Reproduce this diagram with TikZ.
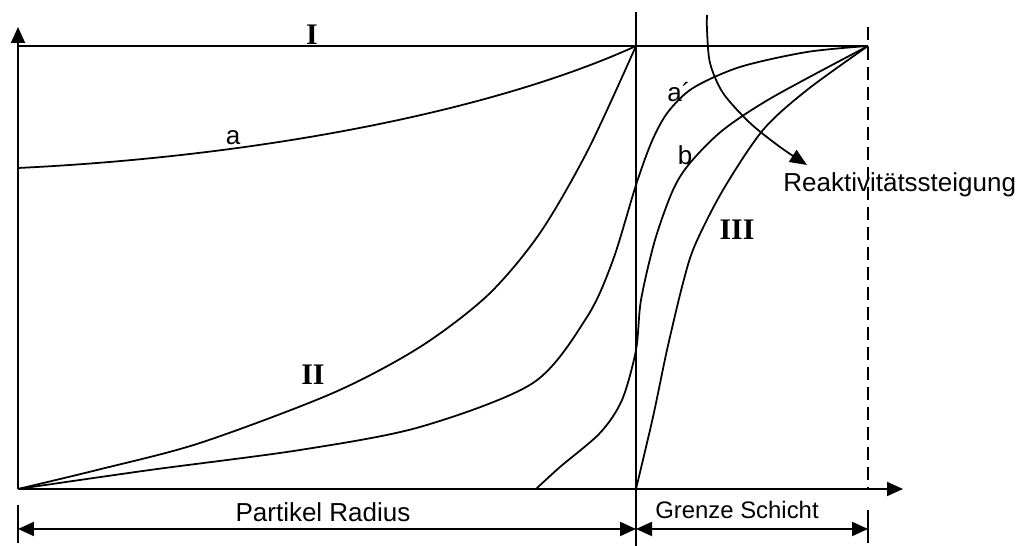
\documentclass[tikz,border=0pt]{standalone}
\usepackage{fontspec}
\setmainfont{Liberation Sans}
\newfontfamily\romfont{Liberation Serif}
\usetikzlibrary{arrows.meta,positioning}

\begin{document}
\begin{tikzpicture}[x=0.02cm,y=0.02cm,
  axisline/.style={line width=1.1pt,-{Triangle[length=0.32cm,width=0.28cm]}},
  dimline/.style={line width=1.1pt,{Triangle[length=0.32cm,width=0.28cm]}-{Triangle[length=0.32cm,width=0.28cm]}},
  curveline/.style={line width=1pt},
  lbl/.style={font=\fontsize{14.8}{16}\selectfont,inner sep=0pt},
  roman/.style={font=\fontsize{17}{19}\romfont\bfseries\selectfont,inner sep=0pt}]
\useasboundingbox (-18,-57) rectangle (1004,489);
% key points
\coordinate (O) at (0,0);
\coordinate (ytip) at (0,462);
\coordinate (xtip) at (885,0);
\coordinate (P1) at (618,443);
\coordinate (P2) at (850,443);
\coordinate (vtop) at (618,477);
\coordinate (vbot) at (618,-57);
\coordinate (dtop) at (850,462);
\coordinate (dbot) at (850,0);
% axes and boundaries
\draw[axisline] (O)--(ytip);
\draw[axisline] (O)--(xtip);
\draw[line width=1.1pt] (0,443)--(P2);
\draw[line width=1.1pt] (vtop)--(vbot);
\draw[line width=1pt,dash pattern=on 0.26cm off 0.14cm] (dtop)--(dbot);
\draw[line width=1pt] (0,-16)--(0,-54);
\draw[line width=1pt] (850,-21)--(850,-54);
% dimension arrows
\coordinate (d0) at (0,-40);
\coordinate (d1) at (618,-40);
\coordinate (d2) at (850,-40);
\draw[dimline] (d0)--(d1);
\draw[dimline] (d1)--(d2);
\node[lbl] (radius) at (305,-23) {Partikel Radius};
\node[lbl,font=\fontsize{13.6}{15}\selectfont] (schicht) at (719,-21) {Grenze Schicht};
% profiles
\draw[curveline] (0,321) .. controls (250,333) and (480,380) .. (P1);
\draw[curveline] plot[smooth] coordinates {(0,0) (79,19) (182,46) (315,96) (402,142) (470,194) (522,256) (570,339) (618,443)};
\draw[curveline] plot[smooth] coordinates {(0,0) (132,19) (282,39) (402,62) (515,106) (569,172) (595,229) (618,304) (634,348) (650,377) (675,401) (722,422) (789,437) (850,443)};
\draw[curveline] plot[smooth] coordinates {(518,0) (542,22) (582,56) (604,89) (618,139) (623,189) (637,249) (655,299) (672,326) (705,359) (755,392) (850,443)};
\draw[curveline] plot[smooth] coordinates {(618,0) (635,72) (649,139) (665,206) (677,244) (705,299) (745,359) (789,399) (850,443)};
% reactivity arrow
\draw[curveline,-{Triangle[length=0.34cm,width=0.28cm]}] plot[smooth] coordinates {(689,474) (689,459) (692,426) (705,396) (732,366) (762,342) (789,324)};
\node[lbl,anchor=west] (react) at (765,304) {Reaktivitätssteigung};
% labels
\node[roman,anchor=south] (zoneI) at (294,444) {I};
\node[roman] (zoneII) at (295,114) {II};
\node[roman] (zoneIII) at (719,259) {III};
\node[lbl] (la) at (215,351) {a};
\node[lbl] (lap) at (661,397) {a´};
\node[lbl] (lb) at (667,334) {b};
\end{tikzpicture}
\end{document}
